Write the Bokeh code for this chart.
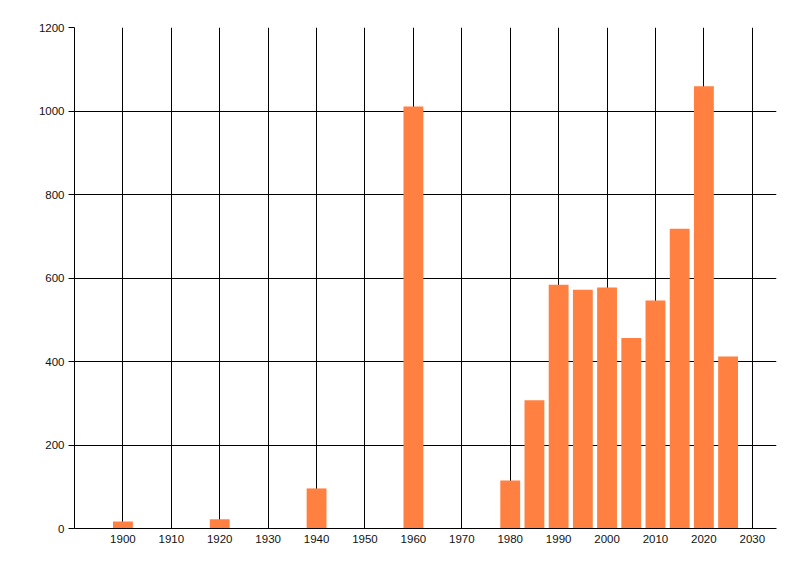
from bokeh.plotting import figure
from bokeh.embed import file_html
from bokeh.resources import INLINE
from bokeh.models import FixedTicker, ColumnDataSource

years = [1900, 1920, 1940, 1960, 1980, 1985, 1990, 1995, 2000, 2005, 2010, 2015, 2020, 2025]
counts = [17, 22, 96, 1011, 115, 307, 584, 572, 577, 456, 546, 718, 1059, 412]
x_ticks = [1900, 1910, 1920, 1930, 1940, 1950, 1960, 1970, 1980, 1990, 2000, 2010, 2020, 2030]
y_ticks = [0, 200, 400, 600, 800, 1000, 1200]

src = ColumnDataSource(dict(x=years, top=counts))

p = figure(width=784, height=560, output_backend="svg", toolbar_location=None,
           x_range=(1890, 2035), y_range=(0, 1200),
           min_border_left=74, min_border_top=27, min_border_right=8, min_border_bottom=32)
p.outline_line_color = None
p.background_fill_color = "white"
p.border_fill_color = "white"

p.vbar(x="x", top="top", bottom=0, width=4.1, source=src, fill_color="#FF8040", line_color=None)

for ax in (p.xaxis[0], p.yaxis[0]):
    ax.axis_line_color = "black"
    ax.major_tick_line_color = "black"
    ax.minor_tick_line_color = None
    ax.major_label_text_font = "Liberation Sans"
    ax.major_label_text_font_size = "11.5px"
    ax.major_label_text_color = "#111111"

p.xaxis.ticker = FixedTicker(ticks=x_ticks)
p.yaxis.ticker = FixedTicker(ticks=y_ticks)
p.xaxis.major_tick_out = 0
p.xaxis.major_tick_in = 0
p.xaxis.major_label_standoff = 6
p.yaxis.major_tick_out = 6
p.yaxis.major_tick_in = 0
p.yaxis.major_label_standoff = 4

p.xgrid.ticker = FixedTicker(ticks=x_ticks)
p.ygrid.ticker = FixedTicker(ticks=y_ticks)
for g in (p.xgrid[0], p.ygrid[0]):
    g.grid_line_color = "black"
    g.grid_line_width = 1
    g.grid_line_alpha = 1.0
    g.level = "underlay"

open("out.html", "w").write(file_html(p, INLINE))
